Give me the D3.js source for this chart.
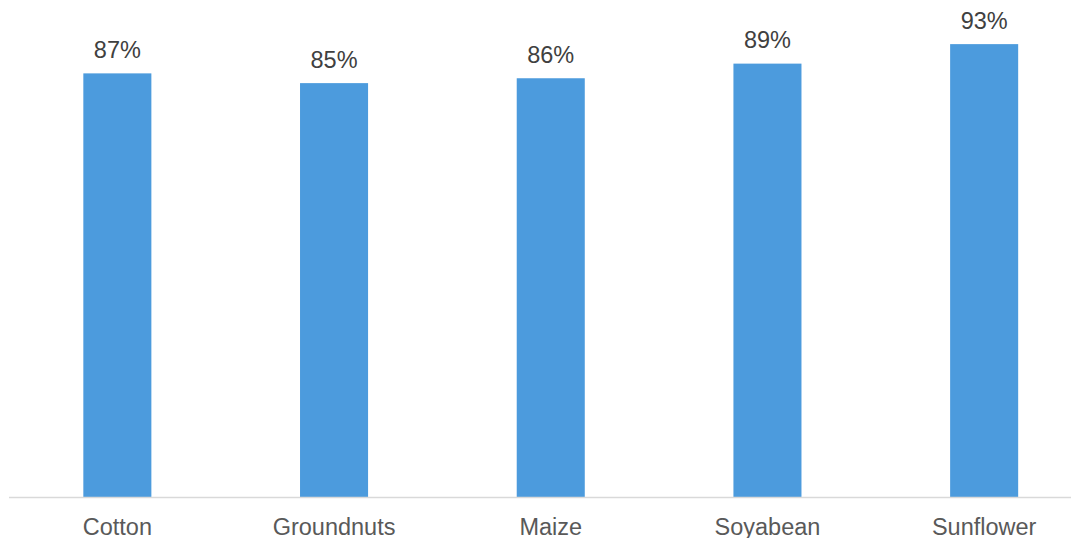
<!DOCTYPE html>
<html>
<head>
<meta charset="utf-8">
<script src="https://cdn.jsdelivr.net/npm/d3@7"></script>
<style>
  html, body { margin: 0; padding: 0; background: #ffffff; }
  svg { display: block; }
</style>
</head>
<body>
<svg id="chart" width="1071" height="538"></svg>
<script>
// Crop shares
const crops = ["Cotton", "Groundnuts", "Maize", "Soyabean", "Sunflower"];
const shares = [0.87, 0.85, 0.86, 0.89, 0.93];

const width = 1071, height = 538;
const svg = d3.select("#chart");

const baseY = 497.5;
const x = d3.scaleBand()
  .domain(crops)
  .range([9, 1092.5])
  .paddingInner(0.686)
  .paddingOuter(0.343);

const y = d3.scaleLinear()
  .domain([0, 1])
  .range([baseY, 10]);

const fmt = d3.format(".0%");
const data = crops.map((c, i) => ({ crop: c, value: shares[i] }));

// Bars
svg.append("g")
  .selectAll("rect")
  .data(data)
  .join("rect")
  .attr("x", d => x(d.crop))
  .attr("y", d => y(d.value))
  .attr("width", x.bandwidth())
  .attr("height", d => baseY - y(d.value))
  .attr("fill", "#4C9BDD");

// Category axis
const xAxis = d3.axisBottom(x).tickSize(0).tickPadding(0);
const gx = svg.append("g")
  .attr("transform", `translate(0,${baseY})`)
  .call(xAxis);
gx.select(".domain").remove();
gx.append("line")
  .attr("x1", 9).attr("x2", width)
  .attr("y1", 0).attr("y2", 0)
  .attr("stroke", "#D9D9D9")
  .attr("stroke-width", 1.5);
gx.selectAll(".tick text")
  .attr("y", 37)
  .attr("dy", 0)
  .attr("font-family", "'Liberation Sans', Arial, sans-serif")
  .attr("font-size", 23.5)
  .attr("fill", "#595959");

// Value labels
svg.append("g")
  .selectAll("text")
  .data(data)
  .join("text")
  .attr("x", d => x(d.crop) + x.bandwidth() / 2)
  .attr("y", d => y(d.value) - 15.5)
  .attr("text-anchor", "middle")
  .attr("font-family", "'Liberation Sans', Arial, sans-serif")
  .attr("font-size", 23.5)
  .attr("fill", "#404040")
  .text(d => fmt(d.value));
</script>
</body>
</html>
